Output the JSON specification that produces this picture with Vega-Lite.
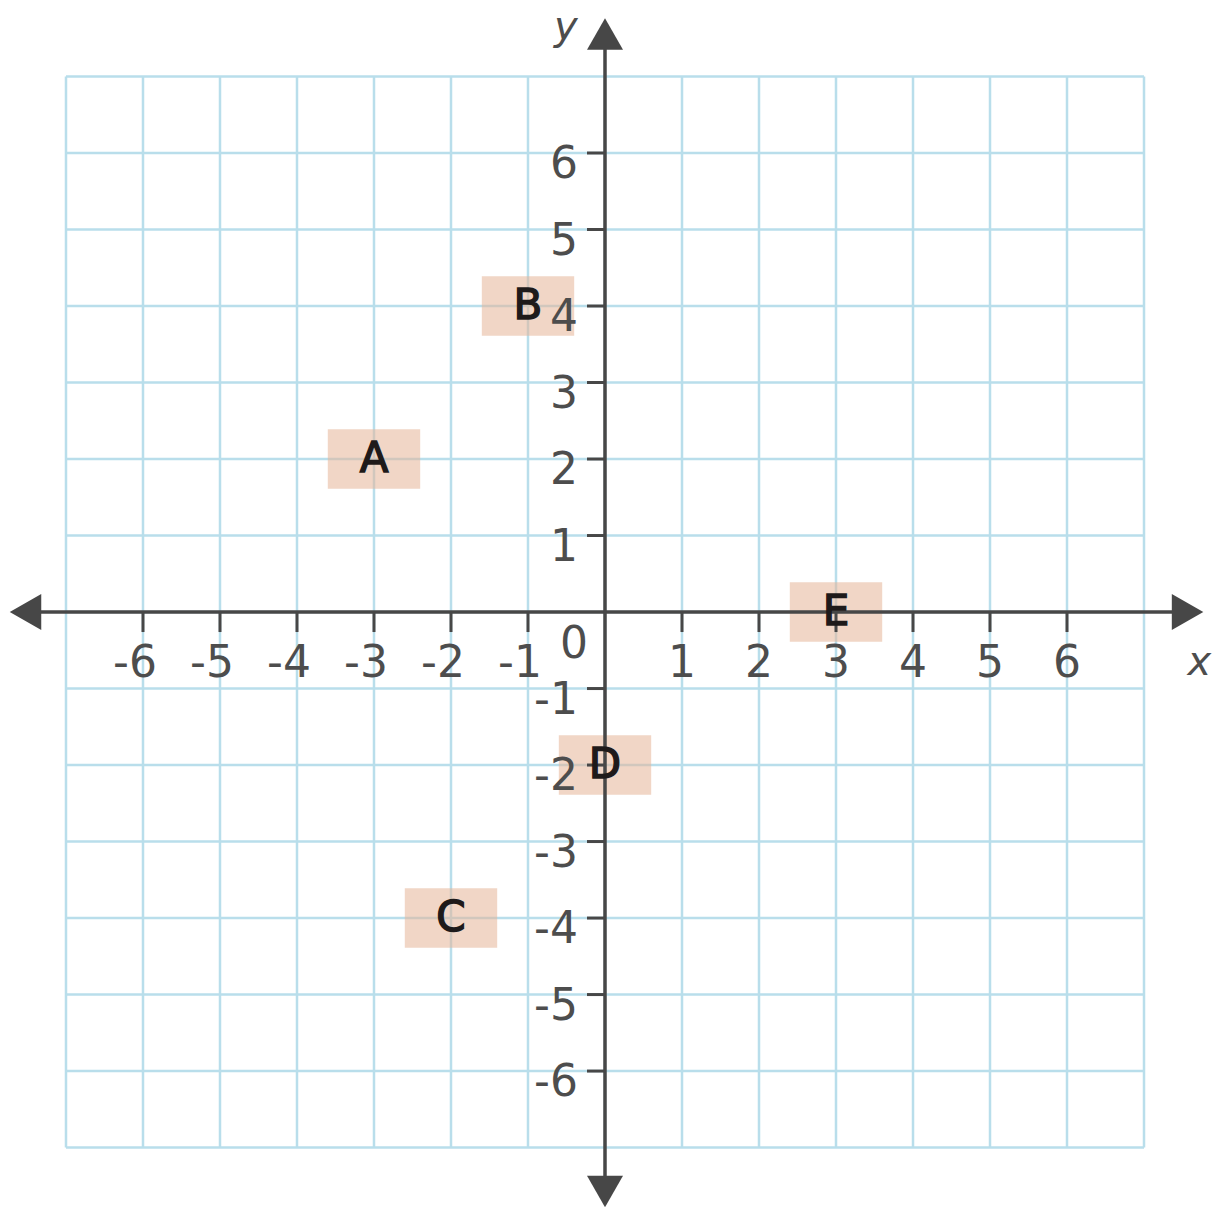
{
  "$schema": "https://vega.github.io/schema/vega-lite/v6.json",
  "width": 1212,
  "height": 1208,
  "autosize": {"type": "fit", "contains": "padding"},
  "padding": 0,
  "background": "white",
  "config": {"view": {"stroke": null}, "axis": {"disable": true}},
  "datasets": {
    "grid": [{"v": -7}, {"v": -6}, {"v": -5}, {"v": -4}, {"v": -3}, {"v": -2}, {"v": -1}, {"v": 0}, {"v": 1}, {"v": 2}, {"v": 3}, {"v": 4}, {"v": 5}, {"v": 6}, {"v": 7}],
    "ticks": [
      {"v": -6, "label": "-6"}, {"v": -5, "label": "-5"}, {"v": -4, "label": "-4"}, {"v": -3, "label": "-3"}, {"v": -2, "label": "-2"}, {"v": -1, "label": "-1"},
      {"v": 1, "label": "1"}, {"v": 2, "label": "2"}, {"v": 3, "label": "3"}, {"v": 4, "label": "4"}, {"v": 5, "label": "5"}, {"v": 6, "label": "6"}
    ],
    "points": [
      {"name": "A", "x": -3, "y": 2},
      {"name": "B", "x": -1, "y": 4},
      {"name": "C", "x": -2, "y": -4},
      {"name": "D", "x": 0, "y": -2},
      {"name": "E", "x": 3, "y": 0}
    ],
    "arrows": [
      {"dir": "left", "x": -7.73, "y": 0},
      {"dir": "right", "x": 7.77, "y": 0},
      {"dir": "up", "x": 0, "y": 7.76},
      {"dir": "down", "x": 0, "y": -7.78}
    ],
    "one": [{}]
  },
  "layer": [
    {
      "data": {"name": "grid"},
      "mark": {"type": "rule", "color": "#b9deeb", "strokeWidth": 2.5},
      "encoding": {
        "x": {"field": "v", "type": "quantitative", "scale": {"domain": [-7.857, 7.883], "nice": false, "zero": false}},
        "y": {"datum": -7, "type": "quantitative", "scale": {"domain": [-7.79, 8.0], "nice": false, "zero": false}},
        "y2": {"datum": 7}
      }
    },
    {
      "data": {"name": "grid"},
      "mark": {"type": "rule", "color": "#b9deeb", "strokeWidth": 2.5},
      "encoding": {
        "y": {"field": "v", "type": "quantitative", "scale": {"domain": [-7.79, 8.0], "nice": false, "zero": false}},
        "x": {"datum": -7, "type": "quantitative", "scale": {"domain": [-7.857, 7.883], "nice": false, "zero": false}},
        "x2": {"datum": 7}
      }
    },
    {
      "data": {"name": "points"},
      "mark": {"type": "point", "filled": true, "shape": "M-1.4,-0.9L1.4,-0.9L1.4,0.9L-1.4,0.9Z", "size": 4356, "color": "#e6b497", "opacity": 0.55, "strokeWidth": 0},
      "encoding": {
        "x": {"field": "x", "type": "quantitative", "scale": {"domain": [-7.857, 7.883], "nice": false, "zero": false}},
        "y": {"field": "y", "type": "quantitative", "scale": {"domain": [-7.79, 8.0], "nice": false, "zero": false}}
      }
    },
    {
      "data": {"name": "one"},
      "mark": {"type": "rule", "color": "#474747", "strokeWidth": 3.5},
      "encoding": {
        "x": {"datum": -7.55, "type": "quantitative"},
        "x2": {"datum": 7.55},
        "y": {"datum": 0, "type": "quantitative"}
      }
    },
    {
      "data": {"name": "one"},
      "mark": {"type": "rule", "color": "#474747", "strokeWidth": 3.5},
      "encoding": {
        "y": {"datum": -7.55, "type": "quantitative"},
        "y2": {"datum": 7.55},
        "x": {"datum": 0, "type": "quantitative"}
      }
    },
    {
      "data": {"name": "ticks"},
      "mark": {"type": "rule", "color": "#474747", "strokeWidth": 3, "y2Offset": 20},
      "encoding": {
        "x": {"field": "v", "type": "quantitative"},
        "y": {"datum": 0, "type": "quantitative"},
        "y2": {"datum": 0}
      }
    },
    {
      "data": {"name": "ticks"},
      "mark": {"type": "rule", "color": "#474747", "strokeWidth": 3, "x2Offset": -18},
      "encoding": {
        "y": {"field": "v", "type": "quantitative"},
        "x": {"datum": 0, "type": "quantitative"},
        "x2": {"datum": 0}
      }
    },
    {
      "data": {"name": "arrows"},
      "mark": {"type": "point", "filled": true, "size": 1296, "color": "#474747", "opacity": 1, "strokeWidth": 0},
      "encoding": {
        "x": {"field": "x", "type": "quantitative"},
        "y": {"field": "y", "type": "quantitative"},
        "shape": {
          "field": "dir", "type": "nominal", "legend": null,
          "scale": {
            "domain": ["left", "right", "up", "down"],
            "range": ["M0,0L1.75,-1L1.75,1Z", "M0,0L-1.75,-1L-1.75,1Z", "M0,0L-1,1.75L1,1.75Z", "M0,0L-1,-1.75L1,-1.75Z"]
          }
        }
      }
    },
    {
      "data": {"name": "ticks"},
      "transform": [{"filter": "datum.v > 0"}],
      "mark": {"type": "text", "align": "center", "baseline": "middle", "dy": 52, "font": "DejaVu Sans", "fontSize": 44, "color": "#4d4d4d"},
      "encoding": {
        "x": {"field": "v", "type": "quantitative"},
        "y": {"datum": 0, "type": "quantitative"},
        "text": {"field": "label"}
      }
    },
    {
      "data": {"name": "ticks"},
      "transform": [{"filter": "datum.v < 0"}],
      "mark": {"type": "text", "align": "right", "baseline": "middle", "dx": 14, "dy": 52, "font": "DejaVu Sans", "fontSize": 44, "color": "#4d4d4d"},
      "encoding": {
        "x": {"field": "v", "type": "quantitative"},
        "y": {"datum": 0, "type": "quantitative"},
        "text": {"field": "label"}
      }
    },
    {
      "data": {"name": "ticks"},
      "mark": {"type": "text", "align": "right", "baseline": "middle", "dx": -27, "dy": 12, "font": "DejaVu Sans", "fontSize": 44, "color": "#4d4d4d"},
      "encoding": {
        "y": {"field": "v", "type": "quantitative"},
        "x": {"datum": 0, "type": "quantitative"},
        "text": {"field": "label"}
      }
    },
    {
      "data": {"name": "one"},
      "mark": {"type": "text", "align": "center", "baseline": "middle", "dx": -31, "dy": 33, "font": "DejaVu Sans", "fontSize": 44, "color": "#4d4d4d", "text": "0"},
      "encoding": {
        "x": {"datum": 0, "type": "quantitative"},
        "y": {"datum": 0, "type": "quantitative"}
      }
    },
    {
      "data": {"name": "one"},
      "mark": {"type": "text", "align": "center", "baseline": "middle", "font": "DejaVu Sans", "fontStyle": "italic", "fontSize": 40, "color": "#4d4d4d", "text": "x"},
      "encoding": {
        "x": {"datum": 7.72, "type": "quantitative"},
        "y": {"datum": -0.67, "type": "quantitative"}
      }
    },
    {
      "data": {"name": "one"},
      "mark": {"type": "text", "align": "center", "baseline": "middle", "font": "DejaVu Sans", "fontStyle": "italic", "fontSize": 40, "color": "#4d4d4d", "text": "y"},
      "encoding": {
        "x": {"datum": -0.51, "type": "quantitative"},
        "y": {"datum": 7.63, "type": "quantitative"}
      }
    },
    {
      "data": {"name": "points"},
      "mark": {"type": "text", "align": "center", "baseline": "middle", "font": "DejaVu Sans", "fontWeight": "normal", "fontSize": 42, "color": "#1e1a1a", "stroke": "#1e1a1a", "strokeWidth": 1.5},
      "encoding": {
        "x": {"field": "x", "type": "quantitative"},
        "y": {"field": "y", "type": "quantitative"},
        "text": {"field": "name"}
      }
    }
  ]
}
